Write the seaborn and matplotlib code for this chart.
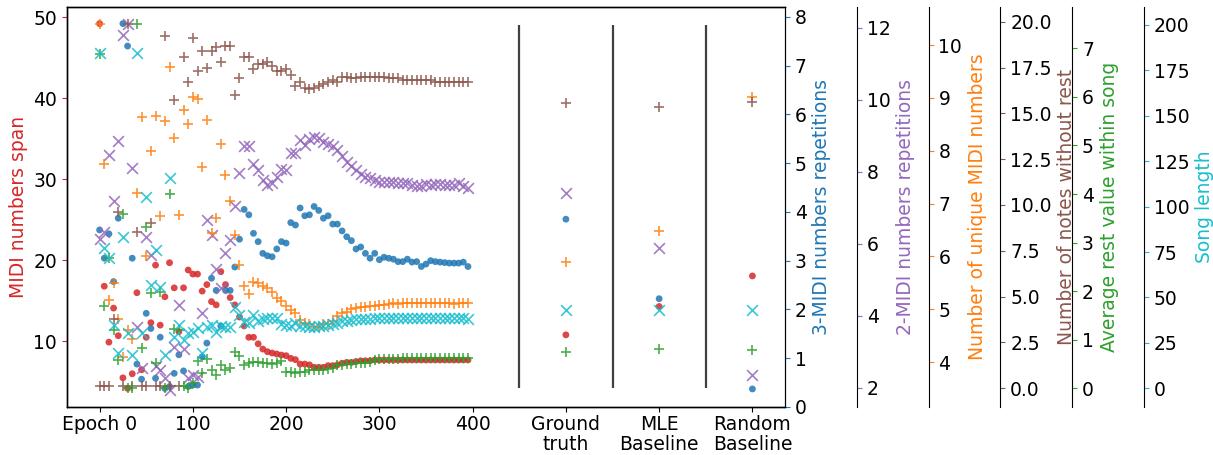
import matplotlib
matplotlib.use("Agg")
import matplotlib.pyplot as plt
import seaborn as sns
import numpy as np

sns.set_style("ticks")
plt.rcParams['font.family'] = ['DejaVu Sans']
plt.rcParams['font.size'] = 13.5
plt.rcParams['text.color'] = 'black'
plt.rcParams['axes.edgecolor'] = 'black'
plt.rcParams['xtick.color'] = 'black'
plt.rcParams['ytick.color'] = 'black'

# training epochs (one point every 5 epochs) and the three reference columns
epochs = list(range(0, 400, 5))
baseline_x = [500, 600, 700]
tick_pos = [0, 100, 200, 300, 400, 500, 600, 700]
tick_labels = ["Epoch 0", "100", "200", "300", "400",
               "Ground\ntruth", "MLE\nBaseline", "Random\nBaseline"]
sep_x = [450, 550, 650]

midi_span = [49.2, 16.8, 9.9, 14.1, 10.7, 5.5, 4.2, 6.0, 16.0, 6.5,
             10.5, 12.3, 19.4, 12.0, 15.5, 19.7, 16.6, 11.2, 16.6, 18.8,
             18.3, 18.3, 16.2, 17.0, 14.9, 14.5, 18.6, 17.0, 15.4, 14.5,
             13.0, 11.9, 10.5, 10.5, 9.7, 9.05, 8.72, 8.56, 8.44, 8.31,
             8.23, 7.9, 7.74, 7.2, 7.2, 7.1, 6.8, 6.8, 6.8, 7.0,
             7.0, 7.1, 7.3, 7.4, 7.4, 7.5, 7.6, 7.6, 7.6, 7.7,
             7.7, 7.7, 7.7, 7.7, 7.7, 7.7, 7.7, 7.7, 7.7, 7.7,
             7.7, 7.7, 7.7, 7.7, 7.7, 7.7, 7.7, 7.7, 7.7, 7.7]
midi_span_base = [10.8, 14.3, 18.07]

rep3 = [3.63, 3.05, 3.55, 2.57, 3.87, 7.86, 7.4, 3.05, 0.88, 0.57,
        1.92, 1.61, 0.59, 1.43, 0.38, 0.42, 0.69, 1.07, 0.74, 0.42,
        0.45, 0.45, 1.03, 1.31, 2.64, 2.39, 1.66, 2.39, 2.39, 2.87,
        3.44, 4.05, 3.94, 3.56, 3.39, 3.15, 3.10, 3.08, 3.24, 3.39,
        3.36, 3.78, 3.73, 4.08, 3.92, 3.94, 4.11, 4.03, 3.87, 3.92,
        3.75, 3.75, 3.61, 3.49, 3.41, 3.24, 3.28, 3.15, 3.05, 3.15,
        3.02, 3.07, 3.05, 3.03, 2.98, 2.98, 3.03, 2.97, 2.98, 2.88,
        2.93, 3.0, 2.98, 2.97, 2.96, 2.95, 2.95, 2.95, 2.97, 2.88]
rep3_base = [3.85, 2.22, 0.37]

rep2 = [6.13, 6.34, 8.47, 7.2, 8.87, 11.8, 12.1, 8.1, 3.7, 2.55,
        6.2, 5.69, 2.6, 2.5, 2.27, 1.94, 3.15, 4.3, 3.07, 2.27,
        2.36, 2.3, 4.07, 6.67, 6.25, 5.3, 4.77, 5.74, 6.1, 7.04,
        7.98, 8.72, 8.72, 8.22, 8.06, 7.78, 7.64, 7.69, 7.87, 8.07,
        8.06, 8.52, 8.52, 8.89, 8.75, 8.9, 8.98, 8.94, 8.84, 8.78,
        8.72, 8.6, 8.45, 8.28, 8.15, 8.04, 7.95, 7.87, 7.82, 7.78,
        7.73, 7.73, 7.73, 7.71, 7.70, 7.70, 7.69, 7.65, 7.60, 7.62,
        7.67, 7.64, 7.66, 7.67, 7.64, 7.64, 7.64, 7.68, 7.62, 7.55]
rep2_base = [7.42, 5.88, 2.36]

unique_midi = [10.4, 7.74, 5.17, 5.5, 4.81, 4.1, 4.6, 4.43, 7.2, 8.63,
               6.0, 8.0, 8.65, 6.77, 8.57, 9.58, 8.24, 6.78, 8.77, 8.5,
               9.02, 8.98, 7.70, 8.58, 6.45, 6.72, 8.13, 7.54, 7.04, 6.4,
               5.84, 5.44, 5.29, 5.52, 5.49, 5.44, 5.41, 5.33, 5.21, 5.16,
               5.06, 4.98, 4.92, 4.80, 4.74, 4.73, 4.66, 4.67, 4.72, 4.73,
               4.78, 4.87, 4.92, 4.95, 5.0, 5.02, 5.04, 5.05, 5.06, 5.07,
               5.08, 5.08, 5.10, 5.11, 5.10, 5.11, 5.11, 5.12, 5.11, 5.12,
               5.11, 5.11, 5.11, 5.12, 5.12, 5.11, 5.10, 5.11, 5.11, 5.11]
unique_midi_base = [5.89, 6.48, 9.02]

notes_no_rest = [0.1, 0.1, 0.1, 3.8, 9.6, 0.1, 19.9, 0.1, 8.5, 0.1,
                 0.1, 9.0, 0.1, 0.1, 19.2, 0.1, 15.7, 0.1, 18.1, 16.7,
                 19.1, 17.3, 18.4, 17.5, 18.4, 18.6, 17.8, 18.7, 18.7, 16.0,
                 16.9, 18.1, 18.1, 17.4, 17.7, 17.7, 17.8, 17.6, 17.3, 17.3,
                 17.4, 17.1, 16.5, 16.7, 16.4, 16.3, 16.4, 16.5, 16.6, 16.7,
                 16.8, 16.7, 17.0, 17.0, 16.9, 16.9, 17.0, 17.0, 17.0, 17.0,
                 17.0, 17.0, 16.9, 16.9, 16.9, 16.8, 16.8, 16.8, 16.8, 16.8,
                 16.8, 16.8, 16.7, 16.7, 16.7, 16.7, 16.7, 16.7, 16.7, 16.7]
notes_no_rest_base = [15.58, 15.36, 15.64]

avg_rest = [6.88, 1.69, 2.68, 1.2, 0.58, 3.59, 0.0, 0.0, 7.5, 0.82,
            3.33, 1.96, 0.53, 1.99, 0.0, 4.0, 1.23, 1.2, 0.05, 0.0,
            0.1, 0.57, 0.31, 0.6, 0.38, 0.27, 0.48, 0.38, 0.41, 0.75,
            0.66, 0.48, 0.53, 0.55, 0.55, 0.53, 0.53, 0.51, 0.53, 0.57,
            0.34, 0.34, 0.32, 0.34, 0.34, 0.38, 0.38, 0.38, 0.38, 0.40,
            0.41, 0.48, 0.48, 0.5, 0.51, 0.53, 0.53, 0.53, 0.55, 0.58,
            0.6, 0.6, 0.61, 0.61, 0.61, 0.62, 0.62, 0.62, 0.62, 0.62,
            0.62, 0.62, 0.62, 0.62, 0.62, 0.62, 0.62, 0.62, 0.62, 0.62]
avg_rest_base = [0.75, 0.815, 0.79]

song_len = [184.7, 77, 71.5, 34.8, 19.6, 83.1, 30.6, 18.3, 184.7, 30.3,
            105.4, 56.9, 76.1, 55.6, 18.3, 115.6, 28.0, 34.8, 26.6, 30.3,
            31.2, 33.0, 19.3, 33.9, 34.8, 31.2, 34.3, 33.9, 33.9, 44.9,
            40.3, 36.7, 35.8, 40.3, 37.2, 38.0, 38.5, 38.5, 38.5, 35.4,
            34.8, 34.3, 35.8, 34.5, 34.5, 34.0, 33.8, 34.2, 34.5, 35.0,
            35.6, 36.2, 36.8, 37.2, 37.6, 37.9, 38.1, 38.3, 38.4, 38.5,
            38.5, 38.5, 38.5, 38.5, 38.5, 38.5, 38.5, 38.5, 38.5, 38.5,
            38.5, 38.5, 38.5, 38.5, 38.5, 38.5, 38.5, 38.5, 38.5, 38.4]
song_len_base = [43.1, 43.1, 43.1]

RED, BLUE, PURPLE, ORANGE = "#d62728", "#1f77b4", "#9467bd", "#ff7f0e"
BROWN, GREEN, CYAN = "#8c564b", "#2ca02c", "#17becf"

fig, ax = plt.subplots(figsize=(12.13, 4.55), dpi=100)
fig.subplots_adjust(left=0.0552, right=0.6472, bottom=0.1055, top=0.9846)

xs = epochs + baseline_x


def draw(axis, vals, base, color, marker, label, ylim, ticks):
    kw = dict(s=24, edgecolor="none") if marker == "o" else dict(s=60, linewidth=1.2)
    sns.scatterplot(x=xs, y=vals + base, ax=axis, color=color, marker=marker,
                    alpha=0.85, legend=False, **kw)
    axis.set_ylim(*ylim)
    axis.set_yticks(ticks)
    axis.set_ylabel(label, color=color)
    axis.tick_params(axis="y", color=color)


draw(ax, midi_span, midi_span_base, RED, "o", "MIDI numbers span",
     (1.9, 51.25), [10, 20, 30, 40, 50])

# extra y axes stacked to the right of the plot
series = [
    (rep3, rep3_base, BLUE, "o", "3-MIDI numbers repetitions", (0, 8.2), np.arange(0, 9, 1)),
    (rep2, rep2_base, PURPLE, "x", "2-MIDI numbers repetitions", (1.47, 12.58), np.arange(2, 13, 2)),
    (unique_midi, unique_midi_base, ORANGE, "+", "Number of unique MIDI numbers", (3.15, 10.72), np.arange(4, 11, 1)),
    (notes_no_rest, notes_no_rest_base, BROWN, "+", "Number of notes without rest", (-1.02, 20.8), np.arange(0, 20.1, 2.5)),
    (avg_rest, avg_rest_base, GREEN, "+", "Average rest value within song", (-0.385, 7.85), np.arange(0, 8, 1)),
    (song_len, song_len_base, CYAN, "x", "Song length", (-10.3, 209.9), np.arange(0, 201, 25)),
]
twins = []
for i, (vals, base, color, marker, label, lim, ticks) in enumerate(series):
    par = ax.twinx()
    if i > 0:
        par.spines["right"].set_position(("axes", 1 + 0.1 * i))
    draw(par, vals, base, color, marker, label, lim, ticks)
    twins.append(par)

# separators between training epochs and the reference columns
twins[-1].vlines(sep_x, 0, 200, color="#404040", linewidth=1.6)

ax.set_xlim(-35, 735)
ax.set_xticks(tick_pos)
ax.set_xticklabels(tick_labels, linespacing=1.05)
ax.tick_params(axis="x", pad=2.5)

fig.savefig("out.png", dpi=100)
